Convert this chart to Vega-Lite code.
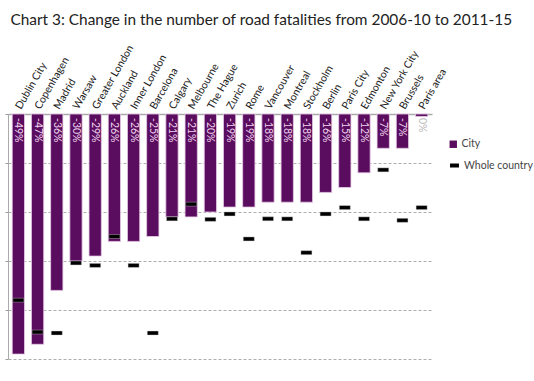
{
  "$schema": "https://vega.github.io/schema/vega-lite/v6.json",
  "width": 424,
  "height": 245,
  "padding": {"left": 4, "top": 12, "right": 5, "bottom": 5},
  "background": "white",
  "title": {
    "text": "Chart 3: Change in the number of road fatalities from 2006-10 to 2011-15",
    "anchor": "start",
    "font": "Lato",
    "fontSize": 15.4,
    "fontWeight": "normal",
    "color": "#222222",
    "offset": 15,
    "dx": 6
  },
  "config": {
    "view": {"stroke": null},
    "font": "Lato"
  },
  "resolve": {"scale": {"color": "independent"}, "legend": {"color": "independent"}},
  "data": {
    "values": [
      {"city": "Dublin City", "value": -49, "country": -38, "label": "-49%"},
      {"city": "Copenhagen", "value": -47, "country": -44.5, "label": "-47%"},
      {"city": "Madrid", "value": -36, "country": -44.7, "label": "-36%"},
      {"city": "Warsaw", "value": -30, "country": -30.4, "label": "-30%"},
      {"city": "Greater London", "value": -29, "country": -30.9, "label": "-29%"},
      {"city": "Auckland", "value": -26, "country": -25, "label": "-26%"},
      {"city": "Inner London", "value": -26, "country": -30.9, "label": "-26%"},
      {"city": "Barcelona", "value": -25, "country": -44.7, "label": "-25%"},
      {"city": "Calgary", "value": -21, "country": -21.4, "label": "-21%"},
      {"city": "Melbourne", "value": -21, "country": -18.4, "label": "-21%"},
      {"city": "The Hague", "value": -20, "country": -21.5, "label": "-20%"},
      {"city": "Zurich", "value": -19, "country": -20.4, "label": "-19%"},
      {"city": "Rome", "value": -19, "country": -25.5, "label": "-19%"},
      {"city": "Vancouver", "value": -18, "country": -21.4, "label": "-18%"},
      {"city": "Montreal", "value": -18, "country": -21.4, "label": "-18%"},
      {"city": "Stockholm", "value": -18, "country": -28.3, "label": "-18%"},
      {"city": "Berlin", "value": -16, "country": -20.4, "label": "-16%"},
      {"city": "Paris City", "value": -15, "country": -19.1, "label": "-15%"},
      {"city": "Edmonton", "value": -12, "country": -21.4, "label": "-12%"},
      {"city": "New York City", "value": -7, "country": -11.4, "label": "-7%"},
      {"city": "Brussels", "value": -7, "country": -21.7, "label": "-7%"},
      {"city": "Paris area", "value": -0.5, "country": -19.1, "label": "0%"}
    ]
  },
  "encoding": {
    "x": {
      "field": "city",
      "type": "nominal",
      "sort": null,
      "scale": {"paddingInner": 0.36, "paddingOuter": 0.22},
      "axis": {
        "orient": "top",
        "title": null,
        "labelAngle": -60,
        "labelAlign": "left",
        "labelBaseline": "middle",
        "labelFontSize": 10.5,
        "labelColor": "#222222",
        "labelPadding": 6,
        "ticks": false,
        "domainColor": "#aaaaaa",
        "domainWidth": 1.5
      }
    }
  },
  "layer": [
    {
      "mark": {"type": "bar", "stroke": "#e9cde9", "strokeWidth": 0.8},
      "encoding": {
        "y": {
          "field": "value",
          "type": "quantitative",
          "scale": {"domain": [-50, 0], "nice": false},
          "axis": {
            "title": null,
            "labels": false,
            "values": [-50, -40, -30, -20, -10, 0],
            "grid": true,
            "gridDash": [3, 2],
            "gridColor": "#999999",
            "gridWidth": 0.8,
            "domainColor": "#aaaaaa",
            "tickColor": "#999999",
            "tickSize": 3
          }
        },
        "color": {
          "datum": "City",
          "type": "nominal",
          "scale": {"domain": ["City"], "range": ["#5a0c5e"]},
          "legend": {
            "title": null,
            "orient": "none",
            "legendX": 440,
            "legendY": 25,
            "labelFontSize": 10.5,
            "labelColor": "#444444",
            "labelOffset": 3,
            "symbolType": "square",
            "symbolSize": 55,
            "symbolStrokeWidth": 0,
            "symbolOpacity": 1
          }
        }
      }
    },
    {
      "mark": {"type": "text", "angle": 90, "align": "left", "baseline": "middle", "dx": 4, "fontSize": 10.5},
      "encoding": {
        "y": {"datum": 0, "type": "quantitative"},
        "text": {"field": "label"},
        "color": {
          "condition": {"test": "datum.value > -1", "value": "#bbbbbb"},
          "value": "#f0d4f0"
        }
      }
    },
    {
      "mark": {"type": "tick", "thickness": 4, "size": 11, "opacity": 1, "stroke": "#cccccc", "strokeWidth": 0.4},
      "encoding": {
        "y": {"field": "country", "type": "quantitative"},
        "color": {
          "datum": "Whole country",
          "type": "nominal",
          "scale": {"domain": ["Whole country"], "range": ["#000000"]},
          "legend": {
            "title": null,
            "orient": "none",
            "legendX": 440,
            "legendY": 45,
            "labelFontSize": 10.5,
            "labelColor": "#444444",
            "labelOffset": 3,
            "symbolType": "stroke",
            "symbolSize": 80,
            "symbolStrokeWidth": 4,
            "symbolStrokeColor": "#000000",
            "symbolOpacity": 1
          }
        }
      }
    }
  ]
}
